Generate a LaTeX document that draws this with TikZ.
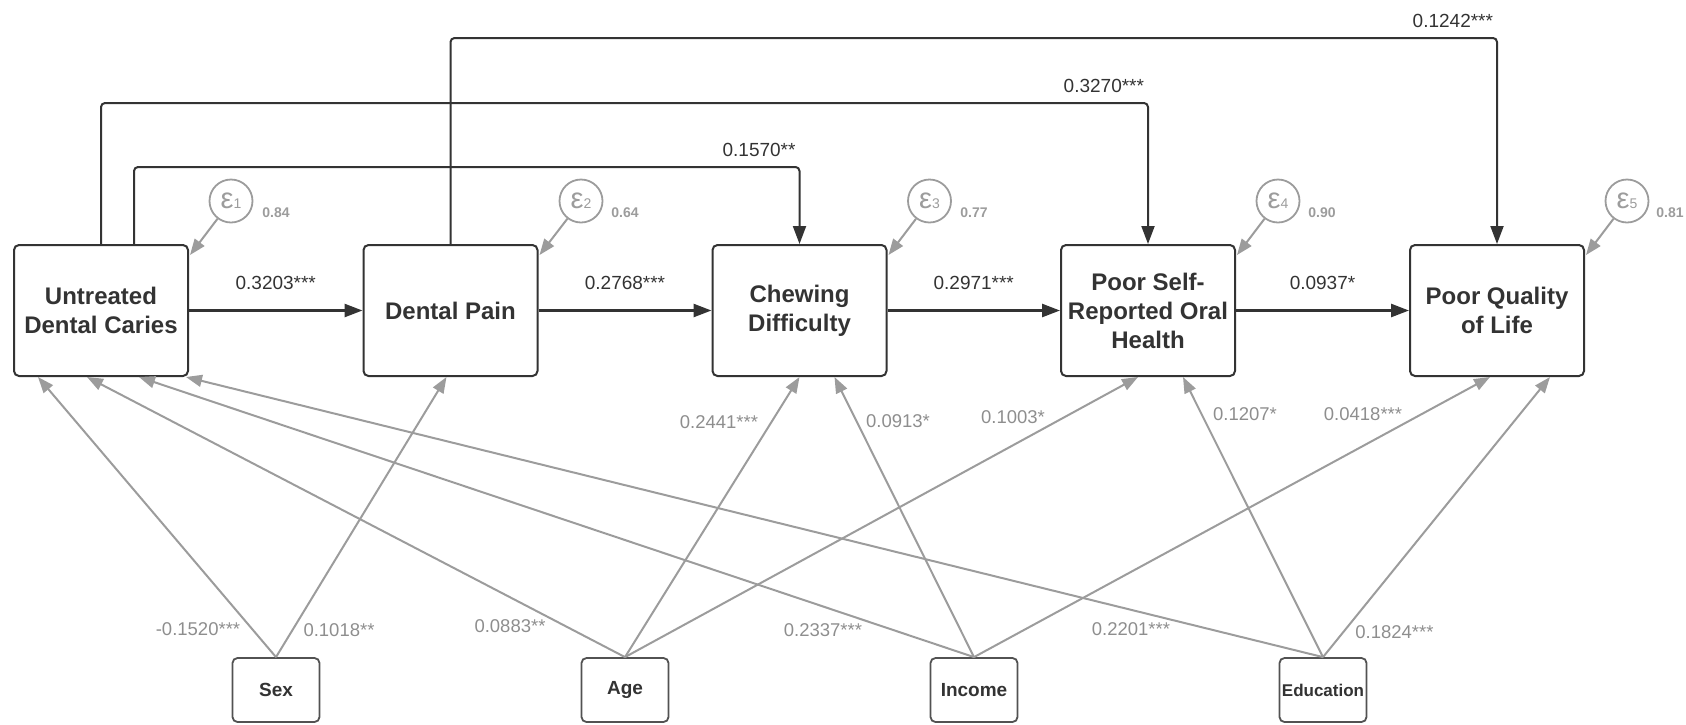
\documentclass[tikz,border=0pt]{standalone}
\usepackage{fontspec}
\setmainfont{Liberation Sans}
\usetikzlibrary{arrows.meta,calc}
\definecolor{dk}{HTML}{333333}
\definecolor{gr}{HTML}{9C9C9C}
\definecolor{grl}{HTML}{8E8E8E}
\tikzset{
  mainbox/.style={draw=dk, line width=2pt, rounded corners=5pt, minimum width=174pt, minimum height=131pt,
    align=center, inner sep=0pt, text=dk, font=\fontsize{24}{29}\selectfont\bfseries},
  covbox/.style={draw=dk!85, line width=1.8pt, rounded corners=5pt, minimum width=87pt, minimum height=64pt,
    inner sep=0pt, text=dk, font=\fontsize{19}{22}\selectfont\bfseries},
  errc/.style={circle, draw=gr, line width=1.8pt, minimum size=43pt, inner sep=0pt, text=gr},
  blk/.style={draw=dk, line width=2.6pt, -{Triangle[length=18pt,width=13pt]}},
  elb/.style={draw=dk, line width=2pt, rounded corners=4pt, -{Triangle[length=18pt,width=13pt]}},
  gry/.style={draw=gr, line width=2pt, -{Triangle[length=16pt,width=12pt]}},
  blab/.style={text=dk, inner sep=0pt, font=\fontsize{19}{19}\selectfont},
  glab/.style={text=grl, inner sep=0pt, font=\fontsize{18.5}{18.5}\selectfont},
  vlab/.style={text=gr, inner sep=0pt, font=\fontsize{14}{14}\selectfont\bfseries},
}
\newcommand{\epsl}[1]{{\fontsize{29}{29}\selectfont ε}{\fontsize{14}{14}\selectfont #1}}
\begin{document}
\begin{tikzpicture}[x=1pt,y=-1pt]
\useasboundingbox (0,0) rectangle (1686,724);

% main boxes
\node[mainbox] (u)  at (101,310.5)  {Untreated\\Dental Caries};
\node[mainbox] (dp) at (450.5,310.5) {Dental Pain};
\node[mainbox] (ch) at (799.5,310.5) {Chewing\\Difficulty};
\node[mainbox] (ps) at (1148,310.5)  {Poor Self-\\Reported Oral\\Health};
\node[mainbox] (ql) at (1497,310.5)  {Poor Quality\\of Life};

% covariate boxes
\node[covbox] (sx)  at (276,690)  {Sex};
\node[covbox] (ag)  at (625,690)  {Age};
\node[covbox] (inc) at (974,690)  {Income};
\node[covbox, font=\fontsize{17}{20}\selectfont\bfseries] (ed) at (1323,690) {Education};

% error terms
\node[errc] (e1) at (231,201)   {\epsl{1}};
\node[errc] (e2) at (581,201)   {\epsl{2}};
\node[errc] (e3) at (929.5,201) {\epsl{3}};
\node[errc] (e4) at (1278,201)  {\epsl{4}};
\node[errc] (e5) at (1627,201)  {\epsl{5}};
\node[vlab] (v1) at (276,213)  {0.84};
\node[vlab] (v2) at (625,213)  {0.64};
\node[vlab] (v3) at (974,213)  {0.77};
\node[vlab] (v4) at (1322,213) {0.90};
\node[vlab] (v5) at (1670,213) {0.81};

\draw[gry] (e1) -- ($(u.north east)+(1,11)$);
\draw[gry] (e2) -- ($(dp.north east)+(1,11)$);
\draw[gry] (e3) -- ($(ch.north east)+(1,11)$);
\draw[gry] (e4) -- ($(ps.north east)+(1,11)$);
\draw[gry] (e5) -- ($(ql.north east)+(1,11)$);

% covariate paths
\draw[gry] (sx.north)  -- ($(u.south)+(-63,0)$);
\draw[gry] (sx.north)  -- ($(dp.south)+(-4,0)$);
\draw[gry] (ag.north)  -- ($(u.south)+(-14,0)$);
\draw[gry] (ag.north)  -- (ch.south);
\draw[gry] (ag.north)  -- ($(ps.south)+(-10,0)$);
\draw[gry] (inc.north) -- ($(u.south)+(38,0)$);
\draw[gry] (inc.north) -- ($(ch.south)+(35,0)$);
\draw[gry] (inc.north) -- ($(ql.south)+(-7,0)$);
\draw[gry] (ed.north)  -- ($(u.south)+(85,0)$);
\draw[gry] (ed.north)  -- ($(ps.south)+(35,0)$);
\draw[gry] (ed.north)  -- ($(ql.south)+(53,0)$);

\node[glab] (l1)  at (198,629)   {-0.1520***};
\node[glab] (l2)  at (339,630)   {0.1018**};
\node[glab] (l3)  at (510,626)   {0.0883**};
\node[glab] (l4)  at (719,422)   {0.2441***};
\node[glab] (l5)  at (823,630)   {0.2337***};
\node[glab] (l6)  at (898,421)   {0.0913*};
\node[glab] (l7)  at (1013,417)  {0.1003*};
\node[glab] (l8)  at (1245,414)  {0.1207*};
\node[glab] (l9)  at (1363,414)  {0.0418***};
\node[glab] (l10) at (1131,629)  {0.2201***};
\node[glab] (l11) at (1394.5,632) {0.1824***};

% main chain
\draw[blk] (u.east)  -- node[blab, midway, yshift=28pt] {0.3203***} (dp.west);
\draw[blk] (dp.east) -- node[blab, midway, yshift=28pt] {0.2768***} (ch.west);
\draw[blk] (ch.east) -- node[blab, midway, yshift=28pt] {0.2971***} (ps.west);
\draw[blk] (ps.east) -- node[blab, midway, yshift=28pt] {0.0937*} (ql.west);

% elbow paths
\draw[elb] ([xshift=33pt]u.north) -- ++(0,-77) -| node[blab, pos=0.5, anchor=base east, yshift=11pt, xshift=-3pt] {0.1570**} (ch.north);
\draw[elb] (u.north) -- ++(0,-141) -| node[blab, pos=0.5, anchor=base east, yshift=11pt, xshift=-3pt] {0.3270***} (ps.north);
\draw[elb] (dp.north) -- ++(0,-206) -| node[blab, pos=0.5, anchor=base east, yshift=11pt, xshift=-3pt] {0.1242***} (ql.north);
\end{tikzpicture}
\end{document}
